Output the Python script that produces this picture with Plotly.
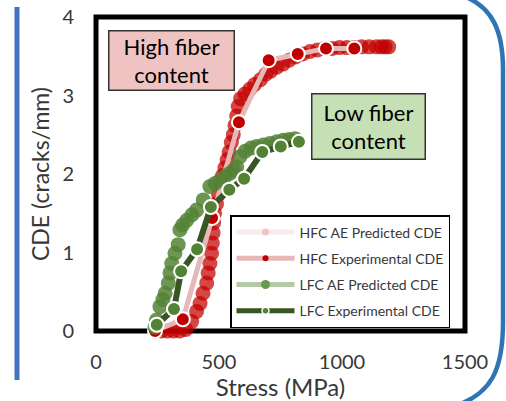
import plotly.graph_objects as go

# ---------------- data ----------------
hfc_ae_x = [240, 265, 290, 315, 340, 365, 389, 409, 423, 435, 450, 456, 463, 470, 473, 476, 478, 482,
            490, 498, 506, 515, 524, 533, 541, 550, 558, 565, 572, 578, 588, 605, 625, 645, 668, 690,
            710, 735, 760, 785, 810, 840, 870, 900, 930, 960, 990, 1020, 1050, 1080, 1110, 1140,
            1160, 1175, 1190]
hfc_ae_y = [0.0, 0.0, 0.0, 0.0, 0.0, 0.02, 0.12, 0.25, 0.35, 0.48, 0.61, 0.74, 0.86, 0.99, 1.12, 1.25,
            1.38, 1.5, 1.62, 1.74, 1.86, 1.98, 2.08, 2.18, 2.28, 2.4, 2.5, 2.62, 2.74, 2.86, 2.96, 3.02,
            3.08, 3.14, 3.2, 3.27, 3.31, 3.36, 3.4, 3.45, 3.49, 3.53, 3.56, 3.58, 3.6, 3.6, 3.61, 3.61,
            3.61, 3.62, 3.62, 3.62, 3.62, 3.62, 3.62]

hfc_exp_x = [240, 353, 472, 581, 702, 820, 935, 1050]
hfc_exp_y = [0.0, 0.15, 1.44, 2.66, 3.45, 3.53, 3.60, 3.60]

lfc_ae_x = [240, 246, 260, 272, 281, 294, 301, 308, 321, 334, 341, 352, 369, 390, 409, 436, 463, 484,
            504, 525, 545, 560, 572, 585, 606, 630, 653, 680, 707, 735, 761, 785, 809]
lfc_ae_y = [0.05, 0.14, 0.31, 0.4, 0.48, 0.61, 0.74, 0.86, 0.99, 1.1, 1.29, 1.35, 1.41, 1.48, 1.54,
            1.67, 1.84, 1.88, 1.92, 1.97, 2.01, 2.05, 2.09, 2.22, 2.29, 2.33, 2.35, 2.37, 2.39, 2.41,
            2.43, 2.44, 2.45]

lfc_exp_x = [247, 317, 346, 411, 467, 542, 602, 676, 751, 825]
lfc_exp_y = [0.08, 0.28, 0.76, 1.04, 1.58, 1.80, 1.94, 2.28, 2.35, 2.41]

x_ticks = [0, 500, 1000, 1500]
y_ticks = [0, 1, 2, 3, 4]
series_names = ["HFC AE Predicted CDE", "HFC Experimental CDE", "LFC AE Predicted CDE", "LFC Experimental CDE"]

# ---------------- layout helpers ----------------
W, H = 506, 401
L, R, T, B = 96, 465, 17, 331


def px(xp):
    return (xp - L) / (R - L)


def py(yp):
    return (B - yp) / (B - T)


FONT = "Lato"
GREY = "#383838"

fig = go.Figure()

# data traces
fig.add_trace(go.Scatter(x=hfc_ae_x, y=hfc_ae_y, mode="markers", showlegend=False, cliponaxis=False,
                         marker=dict(size=15, color="rgba(196,0,0,0.72)", line=dict(width=0))))
fig.add_trace(go.Scatter(x=hfc_exp_x, y=hfc_exp_y, mode="lines+markers", showlegend=False, cliponaxis=False,
                         line=dict(color="#E6B8B7", width=5),
                         marker=dict(size=14, color="#C00000", line=dict(color="white", width=2))))
fig.add_trace(go.Scatter(x=lfc_ae_x, y=lfc_ae_y, mode="markers", showlegend=False, cliponaxis=False,
                         marker=dict(size=15, color="rgba(84,130,53,0.85)", line=dict(width=0))))
fig.add_trace(go.Scatter(x=lfc_exp_x, y=lfc_exp_y, mode="lines+markers", showlegend=False, cliponaxis=False,
                         line=dict(color="#375623", width=6),
                         marker=dict(size=14, color="#548235", line=dict(color="white", width=2))))

# legend entries
leg_styles = [
    (dict(color="#F6ECEC", width=5), dict(size=7, color="#F0C4C4")),
    (dict(color="#E6B8B7", width=5), dict(size=6, color="#C00000")),
    (dict(color="#B5C8A8", width=5), dict(size=9, color="#6A994A")),
    (dict(color="#375623", width=5), dict(size=7, color="#548235", line=dict(color="white", width=1.5))),
]
for i, (nm, (ln, mk)) in enumerate(zip(series_names, leg_styles)):
    fig.add_trace(go.Scatter(x=[None], y=[None], mode="lines+markers", name=nm, line=ln, marker=mk,
                             legendgroup=f"g{i}"))

shapes = [
    # thick black frame
    dict(type="rect", xref="paper", yref="paper", x0=0, x1=1, y0=0, y1=1,
         line=dict(color="black", width=5), layer="below"),
    # blue vertical bar on left
    dict(type="line", xref="paper", yref="paper", x0=px(17), x1=px(17), y0=py(7), y1=py(380),
         line=dict(color="#4472C4", width=5)),
]
pts = [(466, -3), (492, 8), (503, 30), (503, 70), (503, 322), (503, 372), (490, 393), (458, 405)]
path = (f"M {px(pts[0][0])},{py(pts[0][1])} "
        f"C {px(pts[1][0])},{py(pts[1][1])} {px(pts[2][0])},{py(pts[2][1])} {px(pts[3][0])},{py(pts[3][1])} "
        f"L {px(pts[4][0])},{py(pts[4][1])} "
        f"C {px(pts[5][0])},{py(pts[5][1])} {px(pts[6][0])},{py(pts[6][1])} {px(pts[7][0])},{py(pts[7][1])}")
shapes.append(dict(type="path", xref="paper", yref="paper", path=path,
                   line=dict(color="#2E75B6", width=4.5)))

annotations = [
    dict(xref="paper", yref="paper", x=px(171.5), y=py(60.5), xanchor="center", yanchor="middle",
         text="High fiber<br>content", showarrow=False, font=dict(family=FONT, size=22, color="black"),
         bgcolor="#F0C3C3", bordercolor="#333333", borderwidth=1.5, borderpad=0, width=124, height=58),
    dict(xref="paper", yref="paper", x=px(368.5), y=py(126.5), xanchor="center", yanchor="middle",
         text="Low fiber<br>content", showarrow=False, font=dict(family=FONT, size=22, color="black"),
         bgcolor="#C5E0B4", bordercolor="#333333", borderwidth=1.5, borderpad=0, width=112, height=64),
]

fig.update_layout(
    width=W, height=H,
    margin=dict(l=L, r=W - R, t=T, b=H - B, autoexpand=False),
    paper_bgcolor="white", plot_bgcolor="white",
    font=dict(family=FONT, color=GREY),
    shapes=shapes, annotations=annotations,
    showlegend=True,
    legend=dict(x=px(230), y=py(215), xanchor="left", yanchor="top",
                bgcolor="white", bordercolor="black", borderwidth=1.5,
                font=dict(family=FONT, size=14, color=GREY), itemwidth=58,
                tracegroupgap=5, traceorder="grouped"),
)
fig.update_xaxes(range=[0, 1500], tickvals=x_ticks, ticktext=[str(v) for v in x_ticks],
                 showgrid=False, zeroline=False, showline=False, automargin=True,
                 ticks="outside", ticklen=13, tickcolor="rgba(0,0,0,0)",
                 tickfont=dict(family=FONT, size=20, color=GREY),
                 title=dict(text="Stress (MPa)", font=dict(family=FONT, size=24, color=GREY), standoff=2))
fig.update_yaxes(range=[0, 4], tickvals=y_ticks, ticktext=[str(v) for v in y_ticks],
                 showgrid=False, zeroline=False, showline=False, automargin=True,
                 ticks="outside", ticklen=17, tickcolor="rgba(0,0,0,0)",
                 tickfont=dict(family=FONT, size=20, color=GREY),
                 title=dict(text="CDE (cracks/mm)", font=dict(family=FONT, size=23, color=GREY), standoff=6))

fig.write_html("out.html")
